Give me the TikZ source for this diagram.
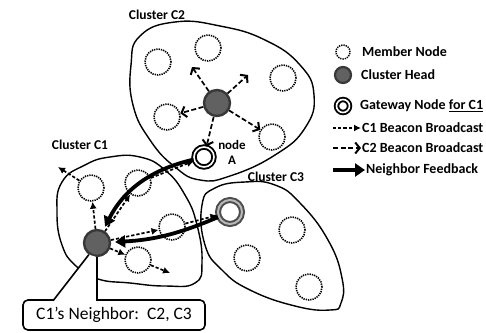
\documentclass[tikz,border=0pt]{standalone}
\usepackage{xcolor}
\usepackage{fontspec}
\setmainfont{Carlito}
\usepackage{tikz}
\usetikzlibrary{arrows.meta}

\tikzset{
	member/.style={circle, draw, dash pattern=on 1.3pt off 1pt, line width=1.6pt, minimum size=26pt, inner sep=0pt},
	chead/.style={circle, draw=black!78, fill=black!62, line width=2.4pt, minimum size=26pt, inner sep=0pt},
	gwnode/.style={circle, draw, double, double distance=1.6pt, line width=1.9pt, minimum size=20pt, inner sep=0pt},
	gwgray/.style={gwnode, draw=black!70, double=black!28, line width=2pt, double distance=2pt, minimum size=24pt},
	blob/.style={line width=1.4pt},
	clabel/.style={font=\fontsize{13.5}{15}\selectfont\bfseries},
	lgtext/.style={anchor=west, inner sep=1pt, font=\fontsize{14}{16}\selectfont\bfseries},
	c1beacon/.style={dash pattern=on 3.2pt off 2pt, line width=1.7pt, -{Latex[length=7pt,width=7pt]}},
	c2beacon/.style={dash pattern=on 5pt off 2.5pt, line width=1.7pt, -{Straight Barb[length=4.5pt,width=11pt,line width=2pt]}},
	feedback/.style={line width=3.8pt, -{Triangle[length=10pt,width=12pt]}}
}

\begin{document}
\begin{tikzpicture}[x=1pt, y=-1pt]
	\useasboundingbox (0,0) rectangle (486,332);

	% clusters
	\draw [blob] plot [smooth cycle, tension=.8] coordinates {(140,36) (175,22) (220,26) (265,40) (300,65) (314,95) (305,128) (275,155) (230,176) (200,180) (175,167) (150,140) (133,105) (131,65)};
	\draw [blob] plot [smooth cycle, tension=.8] coordinates {(62,182) (85,165) (110,157) (140,157) (165,170) (185,195) (197,225) (202,262) (195,283) (165,286) (130,283) (98,279) (76,266) (62,245) (57,212)};
	\draw [blob] plot [smooth cycle, tension=.8] coordinates {(202,205) (215,188) (245,182) (275,185) (300,203) (328,240) (342,278) (341,303) (330,310) (295,306) (250,290) (222,270) (205,245)};

	\node [clabel] (lblc2) at (157,15) {Cluster C2};
	\node [clabel] (lblc1) at (80,145) {Cluster C1};
	\node [clabel] (lblc3) at (276,177) {Cluster C3};

	% cluster C2
	\node [chead] (c2head) at (217,103) {};
	\foreach \p [count=\i] in {(158,62), (208,48), (283,78), (167,117), (272,137)} {
		\node [member] (c2m\i) at \p {};
	}
	\node [gwnode] (nodeA) at (204,157) {};
	\node [clabel, align=center, font=\fontsize{13}{15}\selectfont\bfseries] (lblA) at (232,152) {node\\A};

	% cluster C1
	\node [chead] (c1head) at (97,243) {};
	\foreach \p [count=\i] in {(91,188), (138,183), (172,227), (138,260)} {
		\node [member] (c1m\i) at \p {};
	}

	% cluster C3
	\node [gwgray] (c3gw) at (230,212) {};
	\foreach \p [count=\i] in {(292,230), (247,258), (309,287)} {
		\node [member] (c3m\i) at \p {};
	}

	% beacons
	\coordinate (c2out1) at (192,67);
	\coordinate (c2out2) at (248,75);
	\foreach \t in {c2out1, c2out2, c2m4, c2m5, nodeA} {
		\draw [c2beacon] (c2head) -- (\t);
	}

	\coordinate (c1out1) at (58,167);
	\coordinate (c1out2) at (170,273);
	\foreach \t in {c1m1, c1m2, c1m3, c1m4} {
		\draw [c1beacon] (c1head) -- (\t);
	}
	\draw [c1beacon] (c1m1) -- (c1out1);
	\draw [c1beacon] (c1m2) -- (nodeA);
	\draw [c1beacon] (c1m3) -- (c3gw);
	\draw [c1beacon] (c1m4) -- (c1out2);

	% feedback
	\draw [feedback, shorten >=4pt] (nodeA) to [bend right=25] (c1head);
	\draw [feedback, shorten >=4pt] (c3gw) to [bend left=10] (c1head);

	% callout
	\node [draw, line width=1.6pt, rounded corners=5pt, minimum width=182pt, minimum height=30pt, font=\fontsize{17.5}{20}\selectfont] (callout) at (114,315) {C1’s Neighbor:\ \ C2, C3};
	\fill [white] (53,301.5) -- (c1head.235) -- (c1head.south) -- (97,301.5) -- cycle;
	\draw [line width=1.6pt] (53,300.8) -- (c1head.235);
	\draw [line width=1.6pt] (c1head.south) -- (97,300.8);

	% legend
	\node [member, minimum size=14pt, line width=1.5pt] (lgmember) at (343,52) {};
	\node [lgtext] (lgmembertxt) at (361,52) {Member Node};
	\node [chead, minimum size=16pt, line width=2.2pt] (lghead) at (343,75) {};
	\node [lgtext] (lgheadtxt) at (360,75) {Cluster Head};
	\node [gwnode, minimum size=13pt] (lggate) at (343,106) {};
	\node [lgtext] (lggatetxt) at (359,106) {Gateway Node \underline{for C1}};

	\coordinate (lgc1s) at (333,128);
	\node [lgtext] (lgc1) at (361,128) {C1 Beacon Broadcast};
	\draw [c1beacon] (lgc1s) -- (lgc1);
	\coordinate (lgc2s) at (333,148);
	\node [lgtext] (lgc2) at (361,148) {C2 Beacon Broadcast};
	\draw [c2beacon] (lgc2s) -- (lgc2);
	\coordinate (lgfbs) at (333,170);
	\node [lgtext] (lgfb) at (365,170) {Neighbor Feedback};
	\draw [feedback, line width=4pt, -{Triangle[length=10pt,width=13pt]}] (lgfbs) -- (lgfb);
\end{tikzpicture}
\end{document}
